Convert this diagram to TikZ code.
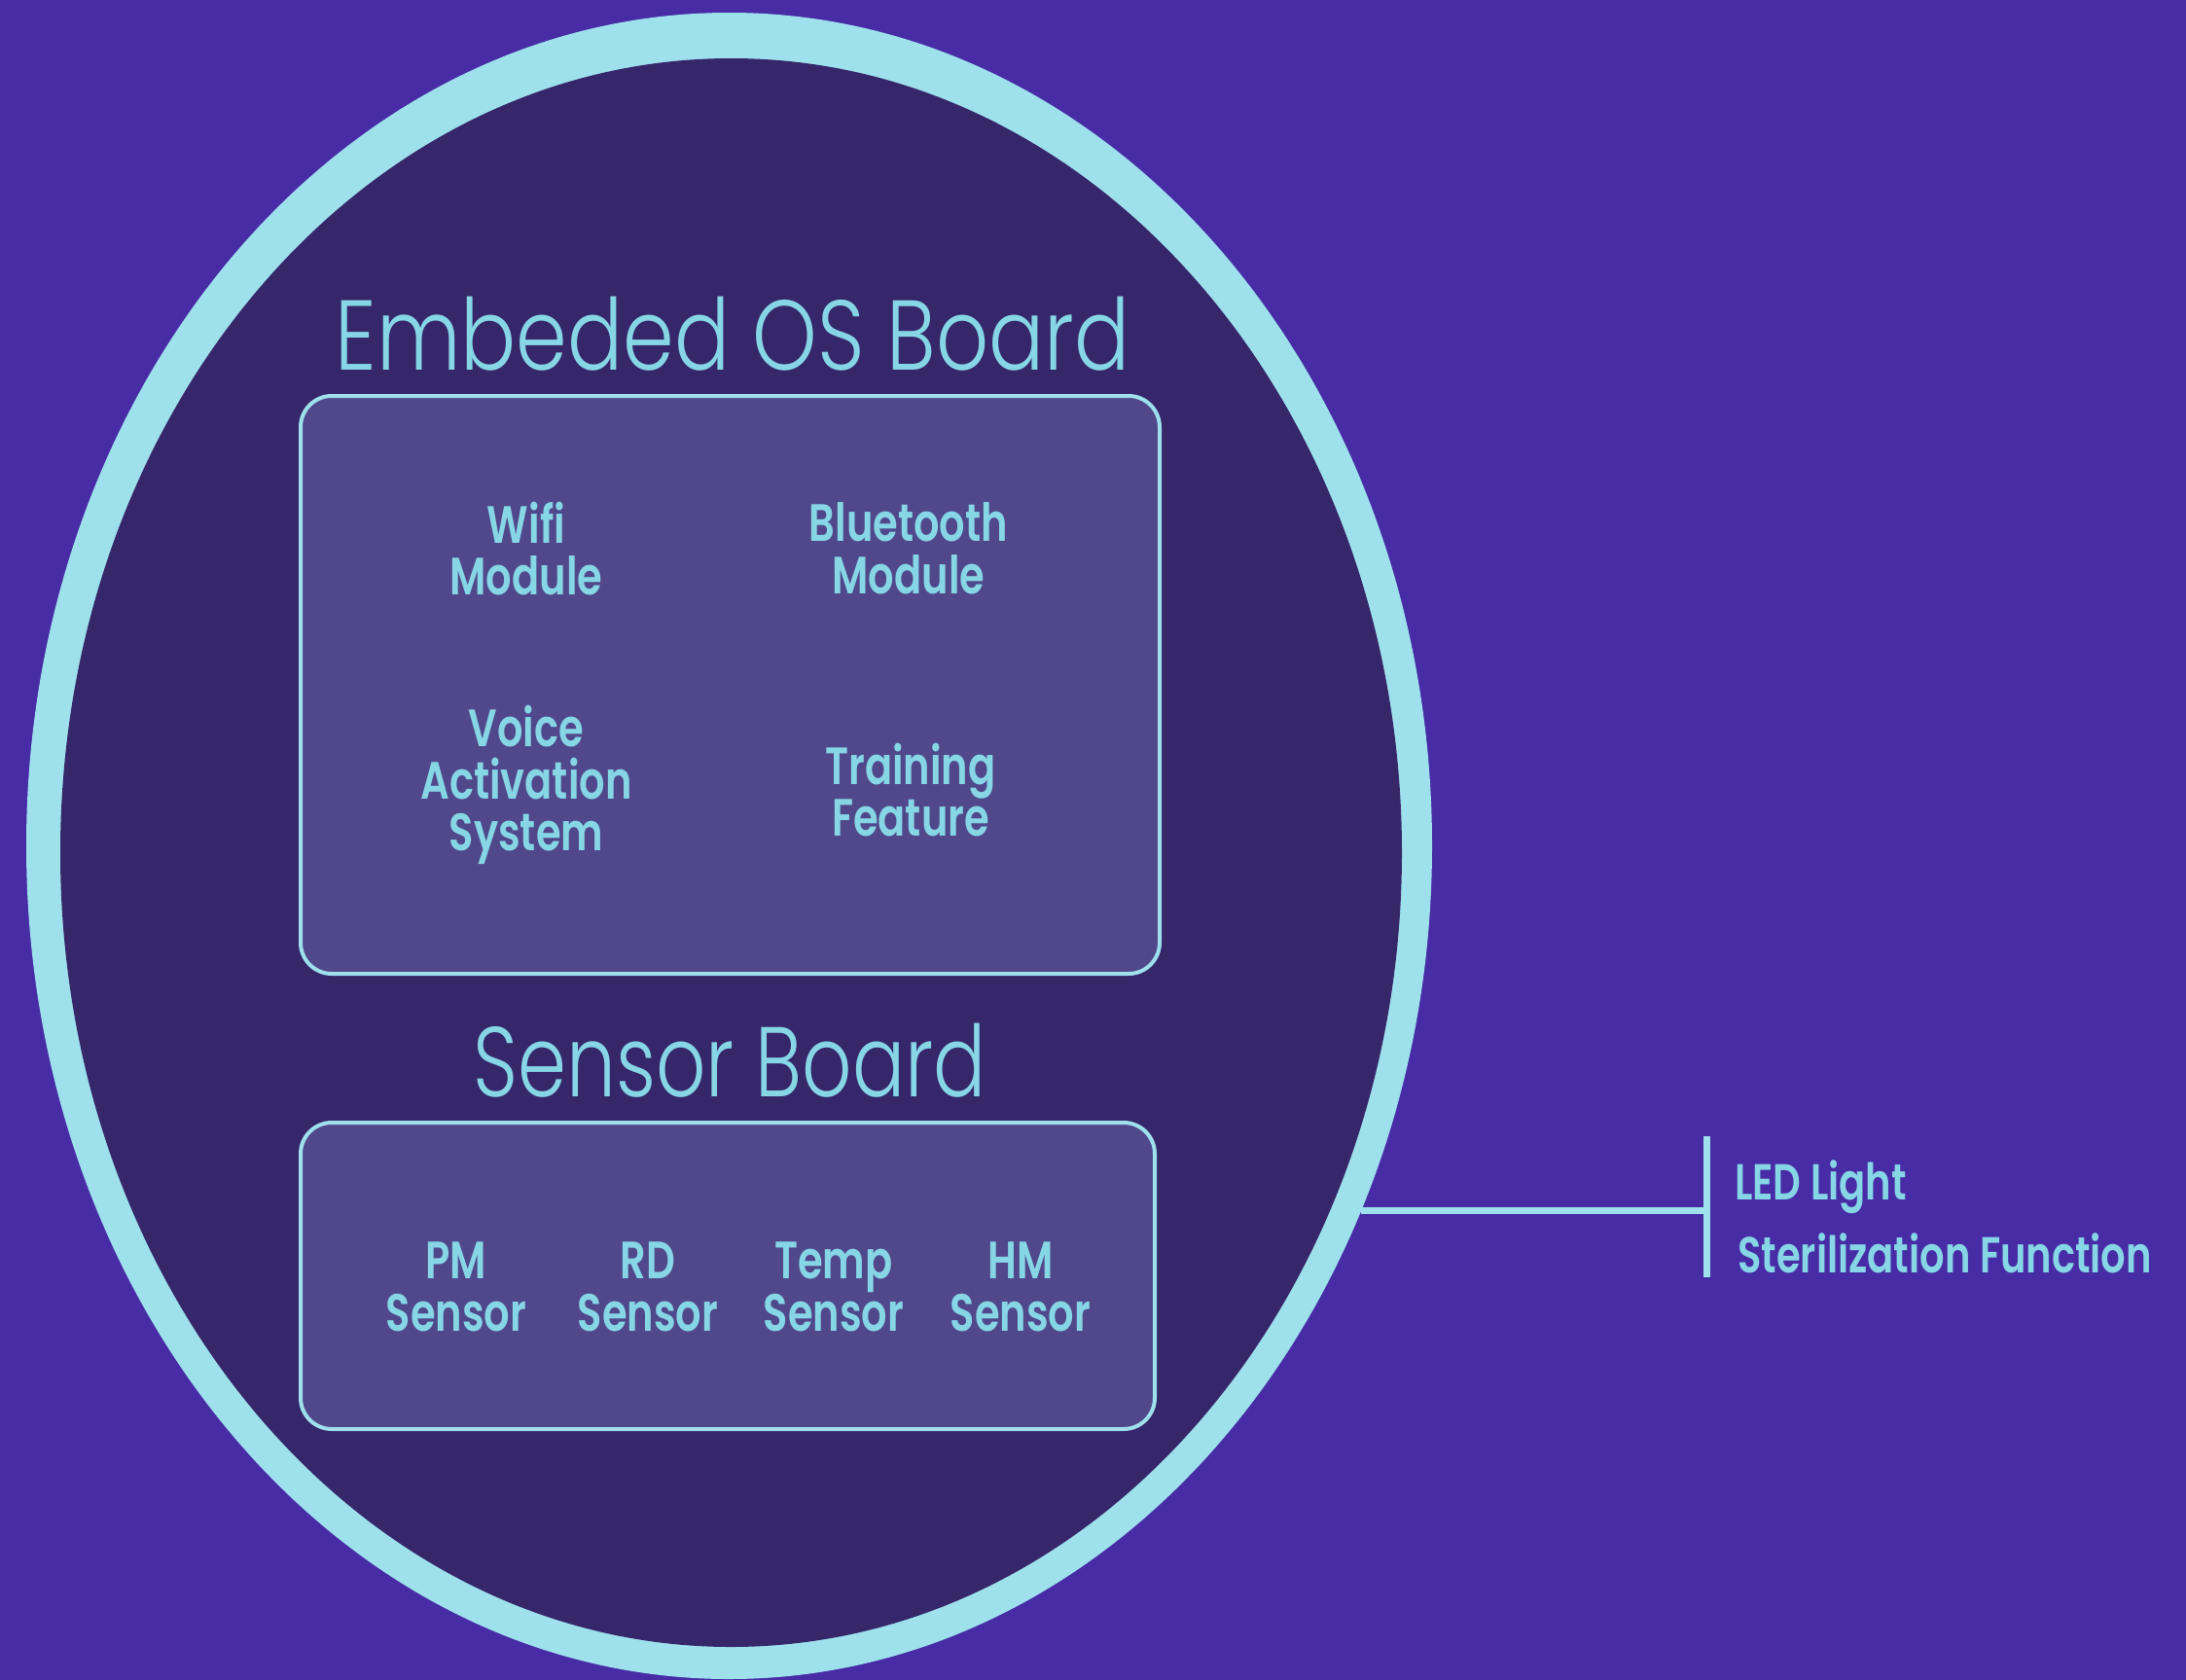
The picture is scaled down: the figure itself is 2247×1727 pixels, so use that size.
\documentclass[tikz,border=0pt]{standalone}
\usepackage{fontspec}
\usetikzlibrary{shapes.geometric}
\IfFontExistsTF{Poppins Light}{\newfontfamily\titlefont{Poppins Light}[FakeStretch=0.82]}{\newfontfamily\titlefont{Poppins}[FakeStretch=0.82]}
\IfFontExistsTF{Poppins SemiBold}{\newfontfamily\bodyfont{Poppins SemiBold}[FakeStretch=0.77]}{\newfontfamily\bodyfont{Poppins}[FakeStretch=0.8]}
\definecolor{bg}{RGB}{72,44,166}
\definecolor{dark}{RGB}{54,38,106}
\definecolor{ring}{RGB}{158,224,236}
\definecolor{boxfill}{RGB}{80,72,138}
\definecolor{txt}{RGB}{134,214,230}
\tikzset{
  titletext/.style={font=\titlefont\fontsize{102}{110}\selectfont, text=txt, inner sep=0pt, anchor=base},
  item/.style={font=\bodyfont\fontsize{54}{53.5}\selectfont, text=txt, align=center, inner sep=0pt},
  side/.style={font=\bodyfont\fontsize{52}{60}\selectfont, text=txt, inner sep=0pt, anchor=base west},
  board/.style={draw=ring, fill=boxfill, line width=4pt, rounded corners=32pt, inner sep=0pt},
  conn/.style={draw=ring, line width=7pt},
}
\begin{document}
\begin{tikzpicture}[x=1pt,y=-1pt]
\useasboundingbox (0,0) rectangle (2247,1727);
\fill[bg] (0,0) rectangle (2247,1727);
% device outline (ring) and interior
\node[ellipse, fill=ring, inner sep=0pt, outer sep=0pt, minimum width=1445pt, minimum height=1713pt] (device) at (749.5,869.5) {};
\node[ellipse, fill=dark, inner sep=0pt, outer sep=0pt, minimum width=1379pt, minimum height=1633pt] (deviceinner) at (751.5,876.5) {};
% embedded OS board
\node[titletext] (ostitle) at (753,380) {\scalebox{1.012}[1]{Embeded OS Board}};
\node[board, minimum width=883pt, minimum height=594pt] (osboard) at (750.5,704) {};
\node[item] (wifi) at (541,564) {Wifi\\Module};
\node[item] (bt) at (934,564) {Bluetooth\\Module};
\node[item] (voice) at (541,807) {Voice\\Activation\\System};
\node[item] (train) at (936,812) {Training\\Feature};
% sensor board
\node[titletext] (sntitle) at (750,1127) {\scalebox{0.96}[1]{Sensor Board}};
\node[board, minimum width=878pt, minimum height=315pt] (snboard) at (748,1311.5) {};
\node[item] (pm) at (469,1323) {PM\\Sensor};
\node[item] (rd) at (666,1323) {RD\\Sensor};
\node[item] (temp) at (857,1323) {Temp\\Sensor};
\node[item] (hm) at (1049,1323) {HM\\Sensor};
% connector to external functions
\coordinate (jn) at (1754,1244);
\coordinate (bartop) at (1754,1168);
\coordinate (barbot) at (1754,1313);
\draw[conn] (device.-30) -- (device.-30 -| jn);
\draw[conn] (bartop) -- (barbot);
\node[side] (led) at (1783,1233) {LED Light};
\node[side] (steril) at (1786,1308) {Sterilization Function};
\end{tikzpicture}
\end{document}
